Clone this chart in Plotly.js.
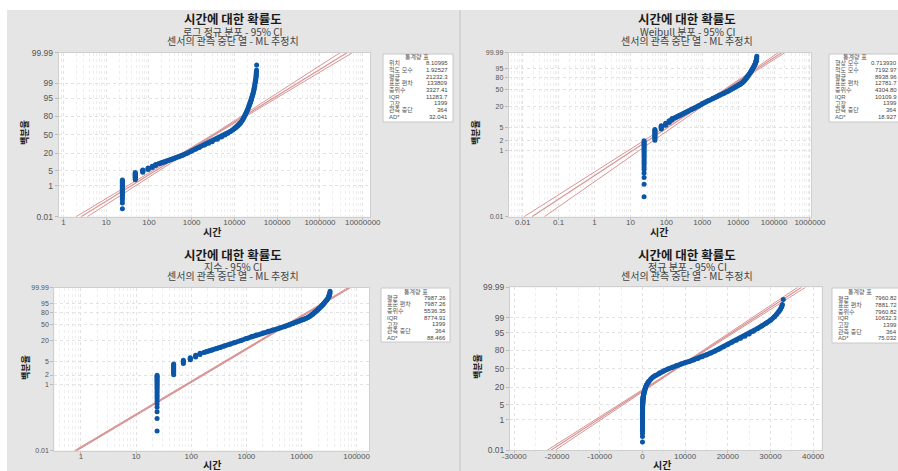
<!DOCTYPE html>
<html><head><meta charset="utf-8">
<script src="https://cdn.plot.ly/plotly-3.0.1.min.js"></script>
<style>html,body{margin:0;padding:0;background:#fff}#chart{width:898px;height:471px}</style>
</head><body><div id="chart"></div>
<script>
// ---------------- DATA ----------------
const tieTimes = [24, 48, 72, 96, 120, 144];
const tiePcts = [
  [0.04, 0.096, 0.153, 0.21, 0.266, 0.32, 0.38, 0.44, 0.5, 0.58, 0.66, 0.75, 0.84, 0.94, 1.04, 1.15, 1.27, 1.4, 1.53, 1.67, 1.82, 1.97],
  [2.05, 2.25, 2.45, 2.65, 2.85, 3.05, 3.3, 3.55, 3.8, 4.05, 4.3],
  [4.45, 4.7, 4.95, 5.2, 5.5],
  [5.7, 5.95, 6.2, 6.5],
  [6.9, 7.3, 7.7],
  [8.1, 8.5, 8.9]
];
const curveTime = [168, 192, 216, 240, 288, 336, 400, 500, 600, 800, 1000, 1250, 1500, 2000, 2500, 3000, 4000, 5000, 6000, 7000, 8000, 9000, 10000, 11000, 12000, 13000, 14000, 15000, 16000, 17000, 18000, 19000, 20000, 21000, 22000, 23000, 24000, 25000, 26000, 27000, 28000, 29000, 30000, 31000, 31500, 32000, 32300, 32600, 32800];
const curvePct  = [9.3, 9.9, 10.5, 11.0, 12.0, 13.0, 14.3, 16.0, 17.5, 20.3, 23.0, 25.8, 28.2, 32.0, 35.0, 37.6, 42.0, 45.8, 49.3, 52.6, 55.6, 58.3, 60.8, 63.0, 65.5, 68.0, 70.8, 73.5, 76.2, 79.0, 81.7, 84.2, 86.6, 88.6, 90.3, 91.8, 93.1, 94.4, 95.6, 96.7, 97.5, 98.1, 98.65, 99.15, 99.35, 99.55, 99.66, 99.76, 99.83];
const topTime = [33000];
const topPct = [99.92];

// fitted line and 95% CI (time at given percent)
const fitPct = [0.01, 50, 99.99];
const lnFitTime = [2.585, 3327.41, 4283000];
const lnLowTime = [1.98, 3090, 2950000];
const lnUpTime  = [3.64, 3550, 5720000];
const wbFitTime = [0.018, 4304.80, 161060];
const wbLowTime = [0.0109, 4000, 130300];
const wbUpTime  = [0.0401, 4630, 199500];
const exFitTime = [0.7987, 5536.35, 73560];
const exLowTime = [0.758, 5254, 69810];
const exUpTime  = [0.842, 5834, 77520];
const nmFitTime = [-21350, 7960.82, 37272];
const nmLowTime = [-22200, 7760, 36400];
const nmUpTime  = [-20350, 8160, 38200];

// tick labels
const normYTicks = ['0.01', '1', '5', '20', '50', '80', '95', '99', '99.99'];
const wblYTicks  = ['0.01', '1', '2', '5', '20', '50', '80', '95', '99.99'];
const lnXTicks = ['1', '10', '100', '1000', '10000', '100000', '1000000', '10000000'];
const wbXTicks = ['0.01', '0.1', '1', '10', '100', '1000', '10000', '100000', '1000000'];
const exXTicks = ['1', '10', '100', '1000', '10000', '100000'];
const nmXTicks = ['-30000', '-20000', '-10000', '0', '10000', '20000', '30000', '40000'];

// statistics tables
const lnStatLabels = ['위치', '척도 모수', '평균', '표준 편차', '중위수', 'IQR', '고장', '관측 중단', 'AD*'];
const lnStatValues = ['8.10995', '1.92527', '21232.3', '133809', '3327.41', '11283.7', '1399', '364', '32.041'];
const wbStatLabels = ['형상 모수', '척도 모수', '평균', '표준 편차', '중위수', 'IQR', '고장', '관측 중단', 'AD*'];
const wbStatValues = ['0.713930', '7192.97', '8938.96', '12781.7', '4304.80', '10109.9', '1399', '364', '18.927'];
const exStatLabels = ['평균', '표준 편차', '중위수', 'IQR', '고장', '관측 중단', 'AD*'];
const exStatValues = ['7987.26', '7987.26', '5536.35', '8774.91', '1399', '364', '88.466'];
const nmStatLabels = ['평균', '표준 편차', '중위수', 'IQR', '고장', '관측 중단', 'AD*'];
const nmStatValues = ['7960.82', '7881.72', '7960.82', '10632.3', '1399', '364', '75.032'];

const mainTitle = '시간에 대한 확률도';
const subTitles = ['로그 정규 분포 - 95% CI', 'Weibull 분포 - 95% CI', '지수 - 95% CI', '정규 분포 - 95% CI'];
const subTitle2 = '센서의 관측 중단 열 - ML 추정치';
const xTitle = '시간';
const yTitle = '백분율';

// ---------------- SCALES ----------------
function normInv(p) {
  const a=[-3.969683028665376e+01,2.209460984245205e+02,-2.759285104469687e+02,1.383577518672690e+02,-3.066479806614716e+01,2.506628277459239e+00];
  const b=[-5.447609879822406e+01,1.615858368580409e+02,-1.556989798598866e+02,6.680131188771972e+01,-1.328068155288572e+01];
  const c=[-7.784894002430293e-03,-3.223964580411365e-01,-2.400758277161838e+00,-2.549671618515743e+00,4.374664141464968e+00,2.938163982698783e+00];
  const d=[7.784695709041462e-03,3.224671290700398e-01,2.445134137142996e+00,3.754408661907416e+00];
  const pl=0.02425, ph=1-pl; let q, r;
  if (p < pl) { q=Math.sqrt(-2*Math.log(p)); return (((((c[0]*q+c[1])*q+c[2])*q+c[3])*q+c[4])*q+c[5])/((((d[0]*q+d[1])*q+d[2])*q+d[3])*q+1); }
  if (p <= ph) { q=p-0.5; r=q*q; return (((((a[0]*r+a[1])*r+a[2])*r+a[3])*r+a[4])*r+a[5])*q/(((((b[0]*r+b[1])*r+b[2])*r+b[3])*r+b[4])*r+1); }
  q=Math.sqrt(-2*Math.log(1-p)); return -(((((c[0]*q+c[1])*q+c[2])*q+c[3])*q+c[4])*q+c[5])/((((d[0]*q+d[1])*q+d[2])*q+d[3])*q+1);
}
const normScale = pct => normInv(pct/100);
const wblScale = pct => Math.log(-Math.log(1 - pct/100));

// ---------------- LAYOUT HELPERS ----------------
const W = 898, H = 471;
const px = x => x / W, py = y => 1 - y / H;
const BLUE = '#0b56a6', RED = '#d99494';
const FONT = 'Liberation Sans, Noto Sans CJK KR, sans-serif';
const KFONT = 'Noto Sans CJK KR, Liberation Sans, sans-serif';
const GRID = '#e2e2e2';

const panels = [
  {sx:'', scale: normScale, yT: normYTicks, xType:'log', xRange:[-0.109, 7.17], xT: lnXTicks,
   plot:[58.7, 52.7, 370, 216.7], fit:[lnFitTime, lnLowTime, lnUpTime], ySize:8.5,
   cx:233, ty:20, xtitle:[212,231.5], ytitle:[25,133],
   box:[383,54,453,122], hdr:[417,57.5], row0:63.3, lx:387, vx:450, labels:lnStatLabels, values:lnStatValues},
  {sx:'2', scale: wblScale, yT: wblYTicks, xType:'log', xRange:[-2.39, 6.028], xT: wbXTicks,
   plot:[508.7, 52.7, 811, 216.7], fit:[wbFitTime, wbLowTime, wbUpTime], ySize:7,
   cx:687, ty:20, xtitle:[659,231.5], ytitle:[476,133],
   box:[829,54,905,122], hdr:[855,57.5], row0:63.3, lx:833, vx:899, labels:wbStatLabels, values:wbStatValues},
  {sx:'3', scale: wblScale, yT: wblYTicks, xType:'log', xRange:[-0.484, 5.23], xT: exXTicks,
   plot:[54.3, 287.7, 369.3, 450.7], fit:[exFitTime, exLowTime, exUpTime], ySize:7,
   cx:233, ty:255, xtitle:[212,464.5], ytitle:[25,368],
   box:[381,288,450,342], hdr:[416,291.5], row0:297.7, lx:385, vx:448, labels:exStatLabels, values:exStatValues},
  {sx:'4', scale: normScale, yT: normYTicks, xType:'linear', xRange:[-31000, 42000], xT: nmXTicks,
   plot:[510, 287.3, 821.7, 450], fit:[nmFitTime, nmLowTime, nmUpTime], ySize:8.5,
   cx:687, ty:255, xtitle:[662,464.5], ytitle:[477,367],
   box:[832,288,905,343], hdr:[860,292.3], row0:298.3, lx:836, vx:899, labels:nmStatLabels, values:nmStatValues}
];

function minorLogVals(lo, hi) {
  const v = [];
  for (let e = lo; e <= hi; e++) for (let k = 2; k <= 9; k++) v.push(k * Math.pow(10, e));
  return v;
}

const traces = [], annotations = [], shapes = [];
const layout = {
  width: W, height: H, margin: {l:0, r:0, t:0, b:0},
  paper_bgcolor: '#e5e5e5', plot_bgcolor: '#ffffff', showlegend: false,
  font: {family: FONT, color: '#444'},
  annotations, shapes
};

// background strips and separator
shapes.push({type:'rect', xref:'paper', yref:'paper', x0:0, x1:1, y0:py(10), y1:1, fillcolor:'#ffffff', line:{width:0}, layer:'below'});
shapes.push({type:'rect', xref:'paper', yref:'paper', x0:0, x1:px(7), y0:0, y1:1, fillcolor:'#ffffff', line:{width:0}, layer:'below'});
shapes.push({type:'line', xref:'paper', yref:'paper', x0:px(460), x1:px(460), y0:0, y1:py(10), line:{color:'#c4c4c4', width:1}});

panels.forEach((p, i) => {
  const xa = 'x' + p.sx, ya = 'y' + p.sx;
  const tr = p.scale;
  // fit lines
  p.fit.forEach((times, j) => {
    traces.push({type:'scatter', mode:'lines', x: times, y: fitPct.map(tr), xaxis: xa, yaxis: ya,
      line:{color: RED, width: j === 0 ? 1.2 : 1}, hoverinfo:'skip', cliponaxis:true});
  });
  // tied failure groups
  tieTimes.forEach((t, k) => {
    traces.push({type:'scatter', mode:'markers', x: tiePcts[k].map(() => t), y: tiePcts[k].map(tr),
      xaxis: xa, yaxis: ya, marker:{color: BLUE, size: 5}, hoverinfo:'skip'});
  });
  // main curve
  traces.push({type:'scatter', mode:'lines+markers', x: curveTime, y: curvePct.map(tr), xaxis: xa, yaxis: ya,
    line:{color: BLUE, width: 5}, marker:{color: BLUE, size: 5}, hoverinfo:'skip'});
  traces.push({type:'scatter', mode:'markers', x: topTime, y: topPct.map(tr), xaxis: xa, yaxis: ya,
    marker:{color: BLUE, size: 5}, hoverinfo:'skip'});

  const key = p.sx;
  const xaxis = {
    domain: [px(p.plot[0]), px(p.plot[2])], anchor: ya, type: p.xType, range: p.xRange,
    tickmode: 'array', tickvals: p.xT.map(Number), ticktext: p.xT,
    tickfont: {size: 8, color: '#555', family: FONT},
    ticks: 'outside', ticklen: 2, tickcolor: '#bbb', ticklabelstandoff: -4,
    showline: true, mirror: true, linecolor: '#cfcfcf', linewidth: 1,
    showgrid: true, gridcolor: GRID, griddash: 'dot', zeroline: false,
    fixedrange: true
  };
  if (p.xType === 'log') {
    xaxis.minor = {tickmode:'array', tickvals: minorLogVals(-3, 7), showgrid: true, gridcolor: '#eeeeee', griddash: 'dot', ticks: ''};
  } else {
    xaxis.minor = {dtick: 5000, showgrid: true, gridcolor: '#eeeeee', griddash: 'dot', ticks: ''};
  }
  const yaxis = {
    domain: [py(p.plot[3]), py(p.plot[1])], anchor: xa, type: 'linear',
    range: [tr(0.01), tr(99.99)],
    tickmode: 'array', tickvals: p.yT.map(s => tr(Number(s))), ticktext: p.yT,
    tickfont: {size: p.ySize, color: '#555', family: FONT},
    ticks: 'outside', ticklen: 3, tickcolor: '#bbb',
    showline: true, mirror: true, linecolor: '#cfcfcf', linewidth: 1,
    showgrid: true, gridcolor: GRID, griddash: 'dot', zeroline: false,
    fixedrange: true
  };
  layout['xaxis' + key] = xaxis;
  layout['yaxis' + key] = yaxis;

  // titles
  annotations.push({xref:'paper', yref:'paper', x:px(p.cx), y:py(p.ty - 1), text: mainTitle, showarrow:false,
    xanchor:'center', yanchor:'middle', font:{family: KFONT, size: 12.5, weight: 'bold', color:'#1a1a1a'}});
  annotations.push({xref:'paper', yref:'paper', x:px(p.cx), y:py(p.ty + 11.5), text: subTitles[i], showarrow:false,
    xanchor:'center', yanchor:'middle', font:{family: KFONT, size: 10, color:'#444'}});
  annotations.push({xref:'paper', yref:'paper', x:px(p.cx), y:py(p.ty + 20.2), text: subTitle2, showarrow:false,
    xanchor:'center', yanchor:'middle', font:{family: KFONT, size: 10, color:'#444'}});
  annotations.push({xref:'paper', yref:'paper', x:px(p.xtitle[0]), y:py(p.xtitle[1]), text: xTitle, showarrow:false,
    xanchor:'center', yanchor:'middle', font:{family: KFONT, size: 10, weight: 'bold', color:'#222'}});
  annotations.push({xref:'paper', yref:'paper', x:px(p.ytitle[0]), y:py(p.ytitle[1]), text: yTitle, showarrow:false,
    textangle: -90, xanchor:'center', yanchor:'middle', font:{family: KFONT, size: 9, weight: 'bold', color:'#222'}});

  // statistics table
  shapes.push({type:'rect', xref:'paper', yref:'paper', x0:px(p.box[0]), x1:px(p.box[2]), y0:py(p.box[3]), y1:py(p.box[1]),
    fillcolor:'#ffffff', line:{color:'#c8c8c8', width:1}});
  annotations.push({xref:'paper', yref:'paper', x:px(p.hdr[0]), y:py(p.hdr[1]), text:'통계량 표', showarrow:false,
    xanchor:'center', yanchor:'middle', font:{family: FONT, size: 6, color:'#555'}});
  p.labels.forEach((lab, r) => {
    const yy = py(p.row0 + r * 6.65);
    annotations.push({xref:'paper', yref:'paper', x:px(p.lx), y:yy, text: lab, showarrow:false,
      xanchor:'left', yanchor:'middle', font:{family: FONT, size: 6, color:'#555'}});
    annotations.push({xref:'paper', yref:'paper', x:px(p.vx), y:yy, text: p.values[r], showarrow:false,
      xanchor:'right', yanchor:'middle', font:{family: FONT, size: 6, color:'#444'}});
  });
});

Plotly.newPlot('chart', traces, layout, {displayModeBar:false, staticPlot:true});
</script>
</body></html>
